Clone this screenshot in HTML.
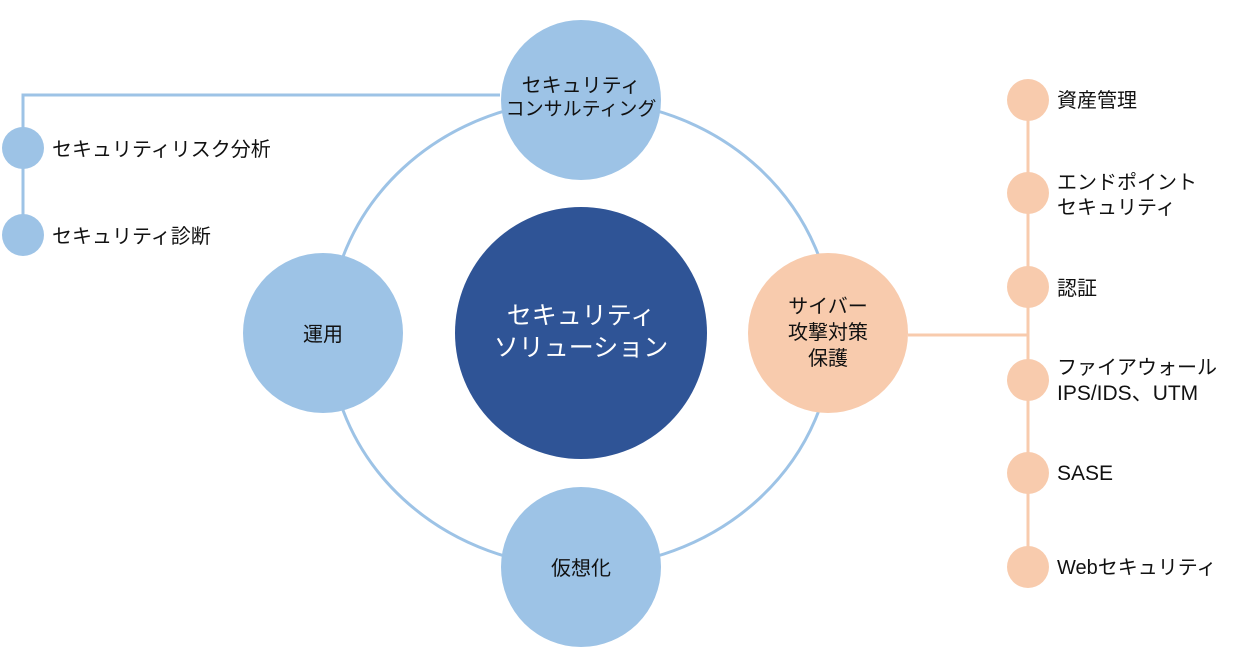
<!DOCTYPE html>
<html><head><meta charset="utf-8"><style>
html,body{margin:0;padding:0;background:#fff;}
svg text{font-family:"Liberation Sans","Noto Sans CJK JP",sans-serif;fill:#111;}
</style></head><body>
<svg width="1242" height="664" viewBox="0 0 1242 664" xmlns="http://www.w3.org/2000/svg">
<g stroke="#9dc3e6" stroke-width="3" fill="none">
<ellipse cx="581" cy="333.5" rx="252" ry="233.5"/>
<polyline points="500,95 23,95 23,235"/>
</g>
<g stroke="#f8cbad" stroke-width="3" fill="none">
<line x1="908" y1="335" x2="1028" y2="335"/>
<line x1="1028" y1="100" x2="1028" y2="567"/>
</g>
<g fill="#9dc3e6">
<circle cx="581" cy="100" r="80"/>
<circle cx="581" cy="567" r="80"/>
<circle cx="323" cy="333" r="80"/>
<circle cx="23" cy="148" r="21"/>
<circle cx="23" cy="235" r="21"/>
</g>
<circle cx="581" cy="333" r="126" fill="#2f5496"/>
<g fill="#f8cbad">
<circle cx="828" cy="333" r="80"/>
<circle cx="1028" cy="100" r="21"/>
<circle cx="1028" cy="193" r="21"/>
<circle cx="1028" cy="287" r="21"/>
<circle cx="1028" cy="380" r="21"/>
<circle cx="1028" cy="473" r="21"/>
<circle cx="1028" cy="567" r="21"/>
</g>
<g font-size="20" text-anchor="middle">
<text x="581" y="92">セキュリティ</text>
<text x="581" y="115" font-size="19">コンサルティング</text>
<text x="323" y="341">運用</text>
<text x="581" y="575">仮想化</text>
<text x="828" y="313">サイバー</text>
<text x="828" y="339">攻撃対策</text>
<text x="828" y="365">保護</text>
<text x="581" y="324" font-size="25" style="fill:#fff">セキュリティ</text>
<text x="581" y="356" font-size="25" style="fill:#fff">ソリューション</text>
</g>
<g font-size="20">
<text x="52" y="156">セキュリティリスク分析</text>
<text x="52" y="243">セキュリティ診断</text>
<text x="1057" y="107">資産管理</text>
<text x="1057" y="189">エンドポイント</text>
<text x="1057" y="214">セキュリティ</text>
<text x="1057" y="295">認証</text>
<text x="1057" y="374">ファイアウォール</text>
<text x="1057" y="400" font-size="21">IPS/IDS、UTM</text>
<text x="1057" y="480" font-size="21">SASE</text>
<text x="1057" y="574">Webセキュリティ</text>
</g>
</svg>
</body></html>
